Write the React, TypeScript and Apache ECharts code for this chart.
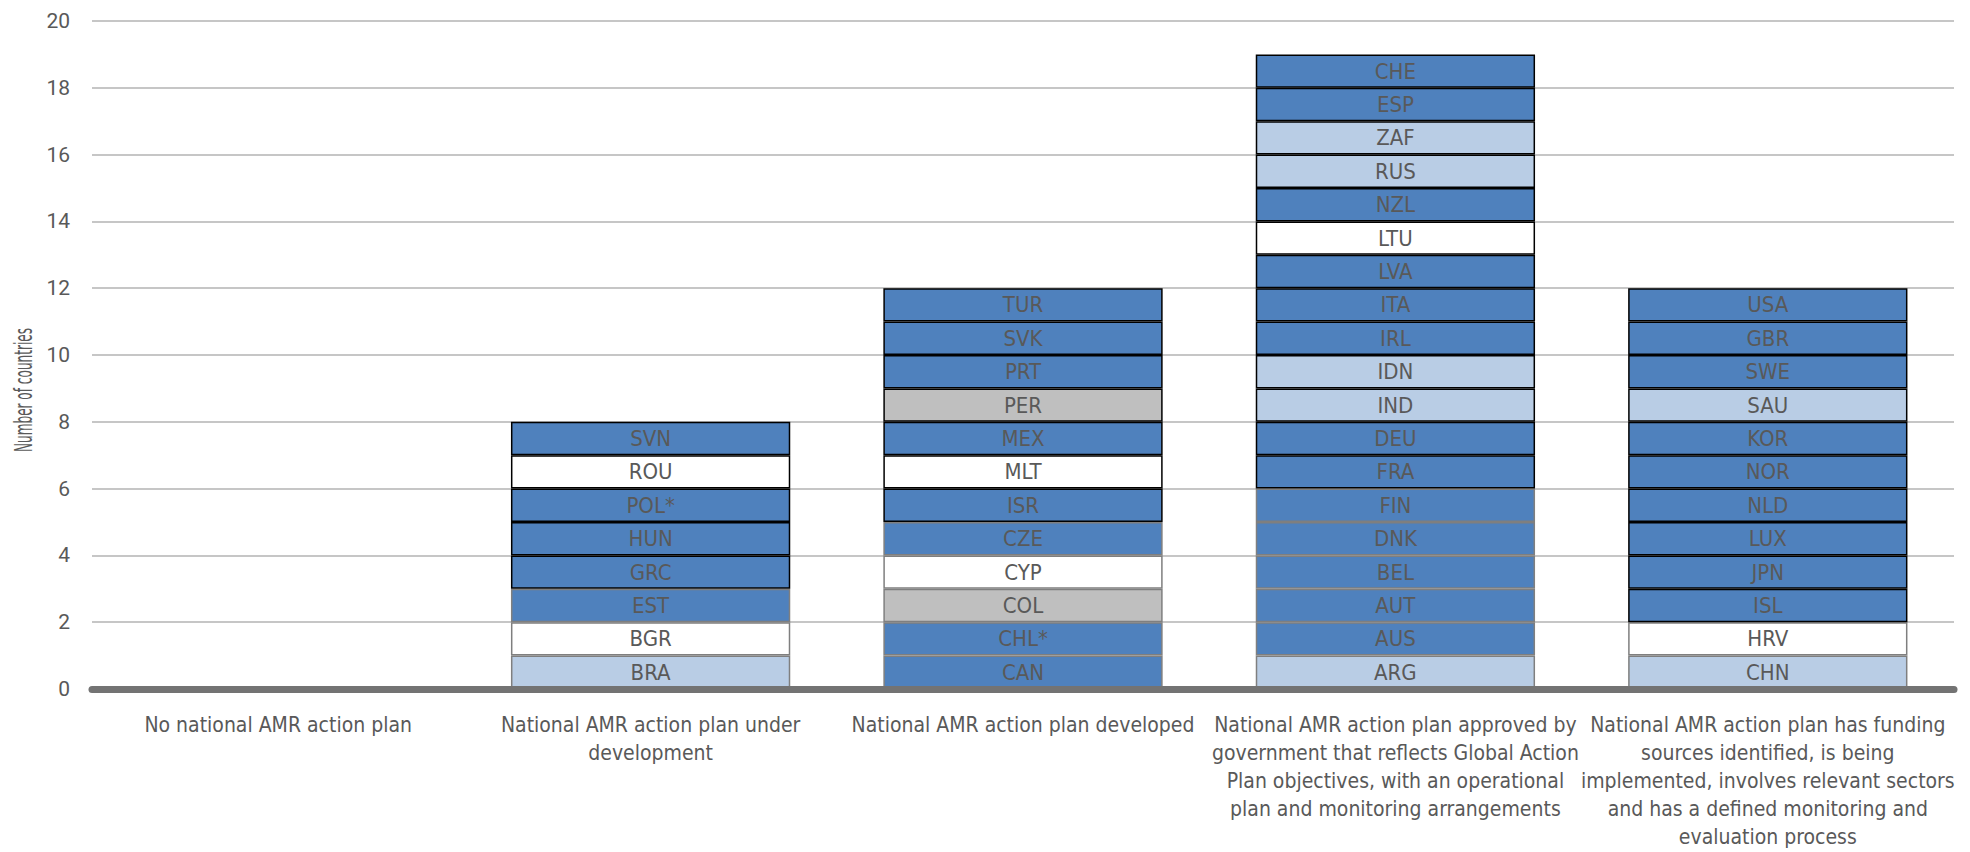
import React, { useEffect, useRef } from 'react';
import * as echarts from 'echarts';

const categoryLabels: string[] = [
  'No national AMR action plan',
  'National AMR action plan under\ndevelopment',
  'National AMR action plan developed',
  'National AMR action plan approved by\ngovernment that reflects Global Action\nPlan objectives, with an operational\nplan and monitoring arrangements',
  'National AMR action plan has funding\nsources identified, is being\nimplemented, involves relevant sectors\nand has a defined monitoring and\nevaluation process',
];

// Countries in each stack, bottom to top
const stackCountries: string[][] = [
  [],
  ['BRA', 'BGR', 'EST', 'GRC', 'HUN', 'POL*', 'ROU', 'SVN'],
  ['CAN', 'CHL*', 'COL', 'CYP', 'CZE', 'ISR', 'MLT', 'MEX', 'PER', 'PRT', 'SVK', 'TUR'],
  ['ARG', 'AUS', 'AUT', 'BEL', 'DNK', 'FIN', 'FRA', 'DEU', 'IND', 'IDN', 'IRL', 'ITA', 'LVA', 'LTU', 'NZL', 'RUS', 'ZAF', 'ESP', 'CHE'],
  ['CHN', 'HRV', 'ISL', 'JPN', 'LUX', 'NLD', 'NOR', 'KOR', 'SAU', 'SWE', 'GBR', 'USA'],
];

// Fill group of each country (D = dark blue, L = light blue, W = white, G = grey)
const stackGroups: string[][] = [
  [],
  ['L', 'W', 'D', 'D', 'D', 'D', 'W', 'D'],
  ['D', 'D', 'G', 'W', 'D', 'D', 'W', 'D', 'G', 'D', 'D', 'D'],
  ['L', 'D', 'D', 'D', 'D', 'D', 'D', 'D', 'L', 'L', 'D', 'D', 'D', 'W', 'D', 'L', 'L', 'D', 'D'],
  ['L', 'W', 'D', 'D', 'D', 'D', 'D', 'D', 'L', 'D', 'D', 'D'],
];

// Outline group of each country (g = grey outline, b = black outline)
const stackOutlines: string[][] = [
  [],
  ['g', 'g', 'g', 'b', 'b', 'b', 'b', 'b'],
  ['g', 'g', 'g', 'g', 'g', 'b', 'b', 'b', 'b', 'b', 'b', 'b'],
  ['g', 'g', 'g', 'g', 'g', 'g', 'b', 'b', 'b', 'b', 'b', 'b', 'b', 'b', 'b', 'b', 'b', 'b', 'b'],
  ['g', 'g', 'b', 'b', 'b', 'b', 'b', 'b', 'b', 'b', 'b', 'b'],
];

const yTicks = { min: 0, max: 20, interval: 2 };
const yAxisTitle = 'Number of countries';

const fillColors: Record<string, string> = {
  D: '#4F81BD',
  L: '#B9CDE5',
  W: '#FFFFFF',
  G: '#BFBFBF',
};
const outlineColors: Record<string, string> = {
  g: '#7F7F7F',
  b: '#000000',
};

const NARROW = "'DejaVu Sans Condensed', 'Liberation Sans', sans-serif";
const REGULAR = "Roboto, 'Liberation Sans', Arial, sans-serif";

export default function App() {
  const ref = useRef<HTMLDivElement>(null);
  useEffect(() => {
    document.body.style.margin = '0';
    if (!ref.current) return;
    const chart = echarts.init(ref.current, undefined, { renderer: 'svg' });
    const levels = Math.max(...stackCountries.map((s) => s.length));
    const series: any[] = [];
    for (let k = 0; k < levels; k++) {
      series.push({
        type: 'bar',
        stack: 'total',
        barCategoryGap: '25%',
        z: 2 + k * 0.01,
        data: stackCountries.map((list, c) =>
          k < list.length
            ? {
                value: 1,
                itemStyle: {
                  color: fillColors[stackGroups[c][k]],
                  borderColor: outlineColors[stackOutlines[c][k]],
                  borderWidth: 1.5,
                },
              }
            : '-'
        ),
        label: {
          show: true,
          position: 'inside',
          color: '#595959',
          fontFamily: NARROW,
          fontSize: 22,
          formatter: (p: any) => stackCountries[p.dataIndex][k] ?? '',
        },
        emphasis: { disabled: true },
      });
    }
    chart.setOption({
      animation: false,
      grid: { left: 92, right: 16, top: 21, bottom: 163, outerBoundsMode: 'none', containLabel: false },
      xAxis: {
        type: 'category',
        data: categoryLabels,
        z: 5,
        axisLine: { show: true, lineStyle: { color: '#737373', width: 7 } },
        axisTick: { show: false },
        axisLabel: {
          interval: 0,
          margin: 22,
          color: '#595959',
          fontFamily: NARROW,
          fontSize: 21,
          lineHeight: 28,
          align: 'center',
        },
      },
      yAxis: {
        type: 'value',
        min: yTicks.min,
        max: yTicks.max,
        interval: yTicks.interval,
        axisLine: { show: false },
        axisTick: { show: false },
        axisLabel: { color: '#595959', fontFamily: REGULAR, fontSize: 21, margin: 22 },
        splitLine: { lineStyle: { color: '#B3B3B3', width: 1.5 } },
      },
      graphic: [
        {
          type: 'text',
          x: 24,
          y: 390,
          rotation: Math.PI / 2,
          scaleX: 0.56,
          style: {
            text: yAxisTitle,
            fill: '#595959',
            font: `24px ${NARROW}`,
            align: 'center',
            verticalAlign: 'middle',
          },
        },
      ],
      series,
    });
    return () => chart.dispose();
  }, []);
  return <div ref={ref} style={{ width: 1970, height: 852 }} />;
}
